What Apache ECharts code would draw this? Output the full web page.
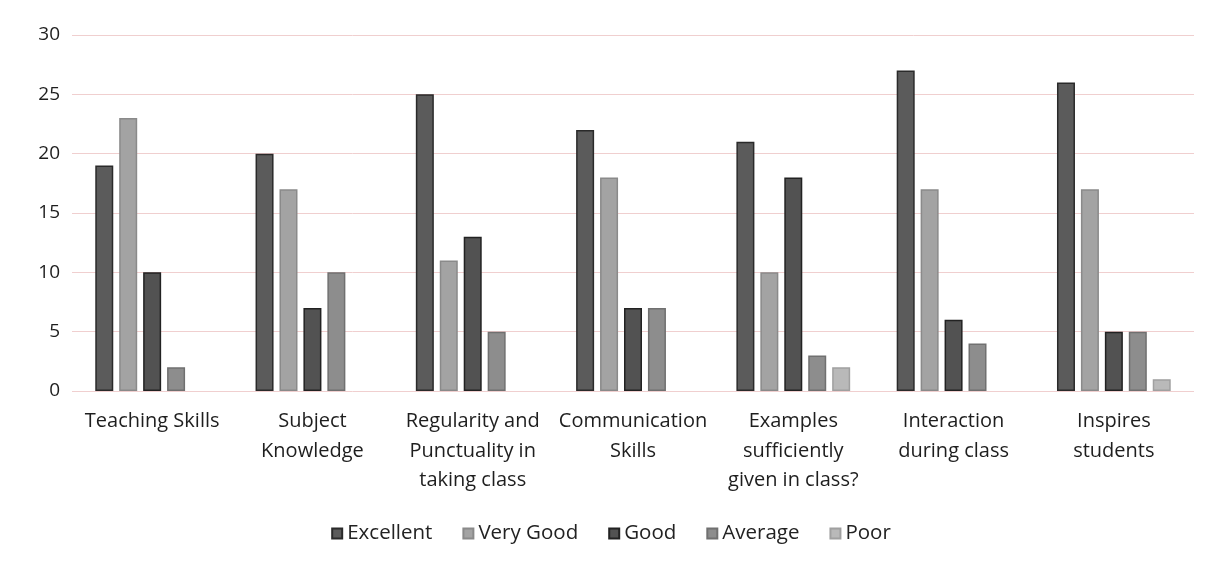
<!DOCTYPE html>
<html>
<head>
<meta charset="utf-8">
<script src="https://cdn.jsdelivr.net/npm/echarts@6/dist/echarts.min.js"></script>
<style>
  html, body { margin: 0; padding: 0; background: #ffffff; }
  #chart { width: 1222px; height: 569px; }
</style>
</head>
<body>
<div id="chart"></div>
<script>
// Feedback categories (line breaks as they wrap under each group)
const categories = [
  'Teaching Skills',
  'Subject\nKnowledge',
  'Regularity and\nPunctuality in\ntaking class',
  'Communication\nSkills',
  'Examples\nsufficiently\ngiven in class?',
  'Interaction\nduring class',
  'Inspires\nstudents'
];

// Number of responses per rating
const excellent = [19, 20, 25, 22, 21, 27, 26];
const veryGood  = [23, 17, 11, 18, 10, 17, 17];
const good      = [10, 7, 13, 7, 18, 6, 5];
const average   = [2, 10, 5, 7, 3, 4, 5];
const poor      = [0, 0, 0, 0, 2, 0, 1];

const seriesNames = ['Excellent', 'Very Good', 'Good', 'Average', 'Poor'];
const yTicks = { min: 0, max: 30, interval: 5 };

const fills   = ['#5b5b5b', '#a3a3a3', '#525252', '#8d8d8d', '#b9b9b9'];
const borders = ['#2a2a2a', '#8a8a8a', '#222222', '#707070', '#a0a0a0'];
const values  = [excellent, veryGood, good, average, poor];

const font = '"Open Sans", Lato, sans-serif';

const chart = echarts.init(document.getElementById('chart'), null, { renderer: 'canvas' });

// Zero counts get no outline so they leave no sliver on the baseline
function barData(arr) {
  return arr.map(v => (v === 0 ? { value: v, itemStyle: { borderWidth: 0 } } : v));
}

chart.setOption({
  backgroundColor: '#ffffff',
  animation: false,
  textStyle: { fontFamily: font },
  grid: { left: 72, right: 28, top: 35, bottom: 178 },
  legend: {
    data: seriesNames,
    bottom: 20,
    left: 'center',
    itemWidth: 10,
    itemHeight: 10,
    itemGap: 30,
    icon: 'rect',
    textStyle: { fontSize: 20.5, color: '#222', fontFamily: font }
  },
  xAxis: {
    type: 'category',
    data: categories,
    axisLine: { show: false },
    axisTick: { show: false },
    axisLabel: {
      interval: 0,
      fontSize: 20,
      lineHeight: 29.5,
      margin: 16,
      color: '#1e1e1e',
      fontFamily: font
    }
  },
  yAxis: {
    type: 'value',
    min: yTicks.min,
    max: yTicks.max,
    interval: yTicks.interval,
    axisLine: { show: false },
    axisTick: { show: false },
    axisLabel: { fontSize: 19, margin: 12, color: '#1e1e1e', fontFamily: font },
    splitLine: { lineStyle: { color: '#f0cfcf', width: 1 } }
  },
  series: seriesNames.map((name, i) => ({
    name: name,
    type: 'bar',
    data: barData(values[i]),
    barWidth: 18,
    barGap: '33%',
    itemStyle: { color: fills[i], borderColor: borders[i], borderWidth: 1.5 }
  }))
});
</script>
</body>
</html>
